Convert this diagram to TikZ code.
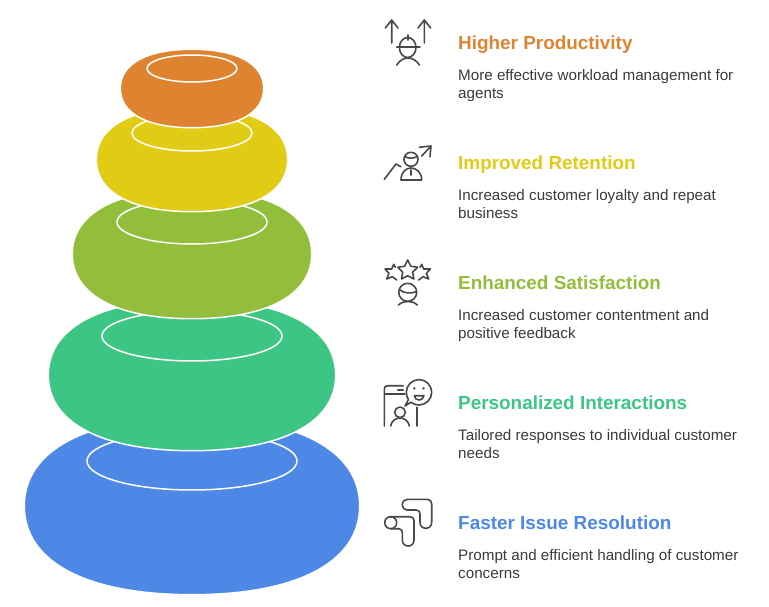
\documentclass[tikz,border=0pt]{standalone}
\usepackage{fontspec}
\setmainfont{Liberation Sans}
\definecolor{cOrange}{HTML}{DE8431}
\definecolor{cYellow}{HTML}{E0CB15}
\definecolor{cGreen}{HTML}{93BE3C}
\definecolor{cTeal}{HTML}{3CC583}
\definecolor{cBlue}{HTML}{4E88E7}
\definecolor{cBody}{HTML}{3A3A3A}
\definecolor{cIcon}{HTML}{484848}
\tikzset{
  titletext/.style={anchor=base west,inner sep=0pt,font=\fontsize{18.9}{22}\selectfont\bfseries},
  bodytext/.style={anchor=north west,inner sep=0pt,align=left,text=cBody,font=\fontsize{15.2}{18}\selectfont},
  icon/.style={draw=cIcon,line width=1.6pt,line cap=round,line join=round,fill=none},
  ringline/.style={draw=white,line width=1.5pt,fill=none},
  bodyline/.style={draw=white,line width=1.5pt}
}
\newcommand{\Torus}[8]{%
  \fill[#1,bodyline,shift={(#2,#3)},xscale=#4,yscale=#5]
    (-1,0) .. controls (-1,-.63) and (-.63,-1) .. (0,-1)
    .. controls (.63,-1) and (1,-.63) .. (1,0)
    .. controls (1,.63) and (.63,1) .. (0,1)
    .. controls (-.63,1) and (-1,.63) .. (-1,0) -- cycle;
  \draw[ringline] (#2,#6) ellipse [x radius=#7,y radius=#8];
}
\newcommand{\StarIcon}[4]{%
  \draw[icon,shift={(#1,#2)},rotate=#4]
    (0,-#3) -- (.2939*#3,-.4045*#3) -- (.9511*#3,-.309*#3) -- (.4755*#3,.1545*#3)
    -- (.5878*#3,.809*#3) -- (0,.5*#3) -- (-.5878*#3,.809*#3) -- (-.4755*#3,.1545*#3)
    -- (-.9511*#3,-.309*#3) -- (-.2939*#3,-.4045*#3) -- cycle;
}
\begin{document}
\begin{tikzpicture}[x=1pt,y=-1pt]
\useasboundingbox (0,0) rectangle (769,607);
% stacked tori, bottom to top
\Torus{cBlue}{192}{506}{167.7}{88.7}{461}{105}{29}
\Torus{cTeal}{192}{375}{143.7}{75.7}{336}{90}{25}
\Torus{cGreen}{192}{254}{119.7}{64.7}{222}{75}{22}
\Torus{cYellow}{192}{159.5}{95.7}{52.2}{133}{60}{18}
\Torus{cOrange}{192}{88.5}{71.7}{39.2}{68.5}{45}{13.5}
% texts
\node[titletext,text=cOrange] (t1) at (458,49.5) {Higher Productivity};
\node[bodytext] (b1) at (458,69.5) {More effective workload management for\\agents};
\node[titletext,text=cYellow] (t2) at (458,169.5) {Improved Retention};
\node[bodytext] (b2) at (458,189.5) {Increased customer loyalty and repeat\\business};
\node[titletext,text=cGreen] (t3) at (458,289.5) {Enhanced Satisfaction};
\node[bodytext] (b3) at (458,309.5) {Increased customer contentment and\\positive feedback};
\node[titletext,text=cTeal] (t4) at (458,409.5) {Personalized Interactions};
\node[bodytext] (b4) at (458,429.5) {Tailored responses to individual customer\\needs};
\node[titletext,text=cBlue] (t5) at (458,529.5) {Faster Issue Resolution};
\node[bodytext] (b5) at (458,549.5) {Prompt and efficient handling of customer\\concerns};
% icon 1: worker with two up arrows
\draw[icon] (391.7,43) -- (391.7,20) (385.3,28) -- (391.7,20) -- (398,28);
\draw[icon] (424.3,43) -- (424.3,20) (418,28) -- (424.3,20) -- (430.7,28);
\draw[icon] (407.7,47.5) ellipse [x radius=8.3,y radius=10];
\draw[icon] (396.7,47) -- (420,47) (407.7,35) -- (407.7,40);
\draw[icon] (396.7,65) .. controls (400,60) and (404,58) .. (408,58) .. controls (412,58) and (416,60) .. (419.5,65);
% icon 2: person with rising arrow
\draw[icon] (384.3,179.3) -- (396,164) -- (401,166.7);
\draw[icon] (419.3,147.3) -- (431,146) -- (430,156.7) (431,146) -- (421.7,156);
\draw[icon] (411,159.3) circle [radius=7];
\draw[icon] (404.5,156.5) .. controls (409,159) and (413,158.5) .. (417.5,156.5);
\draw[icon] (401,180) .. controls (401,172) and (406,168) .. (411,168) .. controls (416,168) and (421.7,172) .. (421.7,180) -- cycle;
\draw[icon] (411,170) -- (411,175);
% icon 3: person with three stars
\StarIcon{407.7}{270.5}{10.5}{0}
\draw[icon] (395.3,267.3) -- (393.7,264.3) -- (391.7,269) -- (385,269) -- (389,273.3) -- (386.7,279) -- (392.3,276.7) -- (396.7,280);
\draw[icon] (420.1,267.3) -- (421.7,264.3) -- (423.7,269) -- (430.4,269) -- (426.4,273.3) -- (428.7,279) -- (423.1,276.7) -- (418.7,280);
\draw[icon] (407.7,292.3) circle [radius=9];
\draw[icon] (399.3,289.5) .. controls (404,293.5) and (411,294) .. (416.5,291.5);
\draw[icon] (398.3,305) .. controls (402,302) and (405,301.5) .. (407.7,301.5) .. controls (411,301.5) and (414,302) .. (417.3,305);
% icon 4: phone, person and speech bubble
\draw[icon] (384.3,426) -- (384.3,389) .. controls (384.3,387) and (385.5,385.7) .. (387.5,385.7) -- (403.3,385.7);
\draw[icon] (385,394) -- (405,394) (397.7,390) -- (403.3,390);
\draw[icon] (416.7,407.3) -- (416.7,426);
\draw[icon] (411,402.2) .. controls (414,404.5) and (417,405) .. (419,405)
  .. controls (426,405) and (431.7,399.3) .. (431.7,392.3)
  .. controls (431.7,385.3) and (426,379.6) .. (419,379.6)
  .. controls (412,379.6) and (406.3,385.3) .. (406.3,392.3)
  .. controls (406.3,395.5) and (407.5,398) .. (408.5,399.5) -- (405,406) -- cycle;
\fill[cIcon] (414.3,388.3) circle [radius=1.3] (423.5,388.3) circle [radius=1.3];
\draw[icon] (414.3,395.7) -- (424,395.7) .. controls (423.5,398.5) and (421.5,400) .. (419,400) .. controls (416.5,400) and (414.8,398.5) .. (414.3,395.7) -- cycle;
\draw[icon] (400,412.3) circle [radius=5.3];
\draw[icon] (390.7,426) .. controls (391.5,421) and (395.5,418) .. (400,418) .. controls (404.5,418) and (408.5,421) .. (409.3,426);
% icon 5: two interlocked rounded bends
\draw[icon] (407,510) .. controls (404,510) and (402.3,507.5) .. (402.3,505) .. controls (402.3,501.5) and (404.5,499.3) .. (407.5,499.3)
  -- (427,499.3) .. controls (430,499.3) and (431.7,501) .. (431.7,504)
  -- (431.7,522.3) .. controls (431.7,526) and (429,528.3) .. (425.8,528.3)
  .. controls (422.6,528.3) and (420,526) .. (420,522.3) -- (420,514)
  .. controls (420,511.5) and (418.5,510) .. (416,510) -- cycle;
\draw[icon] (390.7,522.7) circle [radius=6];
\draw[icon] (390.7,516.7) -- (410,516.7) .. controls (412.5,516.7) and (414,518.2) .. (414,520.7)
  -- (414,540) .. controls (414,543.7) and (411.5,546) .. (408.2,546)
  .. controls (405,546) and (402.3,543.7) .. (402.3,540) -- (402.3,532.7)
  .. controls (402.3,530.2) and (401,528.7) .. (398.5,528.7) -- (390.7,528.7);
\end{tikzpicture}
\end{document}
